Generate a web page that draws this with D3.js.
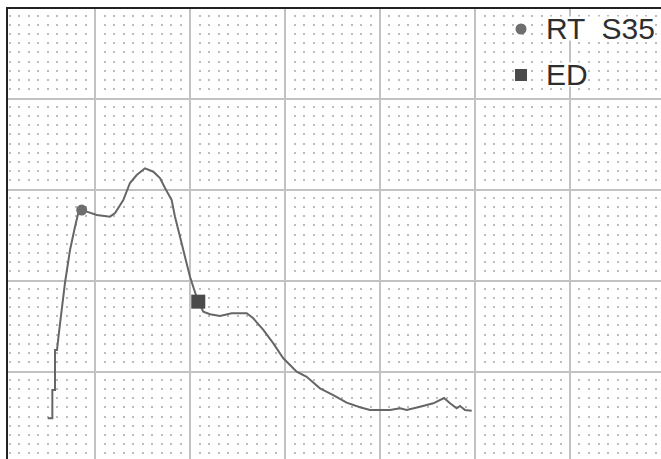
<!DOCTYPE html>
<html>
<head>
<meta charset="utf-8">
<script src="https://cdn.jsdelivr.net/npm/d3@7"></script>
<style>
	body { margin: 0; background: #fff; }
	text { font-family: "Liberation Sans", Arial, sans-serif; }
</style>
</head>
<body>
<svg id="chart" width="661" height="459"></svg>
<script>
// curve samples, x and y in grid units (1 unit = one major cell)
var curveX = [0.502,0.551,0.551,0.579,0.579,0.600,0.624,0.684,0.737,0.789,0.824,0.860,0.913,1.018,1.158,1.211,1.298,1.368,1.439,1.526,1.614,1.684,1.737,1.807,1.842,1.895,1.947,2.000,2.045,2.087,2.140,2.211,2.316,2.439,2.597,2.666,2.772,2.877,2.982,3.123,3.228,3.368,3.508,3.649,3.789,3.895,4.105,4.211,4.281,4.421,4.561,4.674,4.737,4.807,4.842,4.895,4.965];
var curveY = [0.491,0.491,0.802,0.802,1.242,1.242,1.462,1.978,2.341,2.593,2.747,2.780,2.762,2.725,2.707,2.747,2.890,3.077,3.165,3.238,3.201,3.132,3.022,2.890,2.707,2.487,2.267,2.047,1.901,1.773,1.663,1.634,1.615,1.645,1.645,1.590,1.462,1.315,1.151,1.003,0.948,0.821,0.747,0.663,0.612,0.582,0.582,0.601,0.582,0.619,0.656,0.714,0.656,0.601,0.626,0.582,0.575];

var markerNames = ["RT", "ED"];
var markerX = [0.860, 2.087];
var markerY = [2.780, 1.773];

var legendLabels = ["RT  S35", "ED"];

var xMax = 7, yMax = 5;

var svg = d3.select("#chart");

var x = d3.scaleLinear().domain([0, xMax]).range([0, 95 * xMax]);
var y = d3.scaleLinear().domain([0, yMax]).range([463, 8]);

function drawGrid() {
	var g = svg.append("g");

	// minor dots
	var dots = [];
	for (var i = 0; i <= xMax * 10; i++) {
		for (var j = 0; j <= yMax * 10; j++) {
			if (i % 10 == 0 || j % 10 == 0) continue;
			dots.push([i / 10, j / 10]);
		}
	}
	g.selectAll("rect.dot")
		.data(dots)
		.enter()
		.append("rect")
		.attr("class", "dot")
		.attr("x", function(d) { return Math.round(x(d[0])) - 1; })
		.attr("y", function(d) { return Math.round(y(d[1])) - 2; })
		.attr("width", 2)
		.attr("height", 2)
		.attr("fill", "#bdbdbd");

	g.selectAll("line.vmaj")
		.data(d3.range(1, xMax + 1))
		.enter()
		.append("line")
		.attr("class", "vmaj")
		.attr("x1", function(d) { return x(d); })
		.attr("x2", function(d) { return x(d); })
		.attr("y1", y(yMax))
		.attr("y2", y(0))
		.attr("stroke", "#c2c2c2")
		.attr("stroke-width", 2);

	g.selectAll("line.hmaj")
		.data(d3.range(0, yMax))
		.enter()
		.append("line")
		.attr("class", "hmaj")
		.attr("x1", 7)
		.attr("x2", 661)
		.attr("y1", function(d) { return y(d); })
		.attr("y2", function(d) { return y(d); })
		.attr("stroke", "#c2c2c2")
		.attr("stroke-width", 2);

	// frame, top and left
	g.append("line")
		.attr("x1", 6).attr("x2", 661)
		.attr("y1", y(yMax)).attr("y2", y(yMax))
		.attr("stroke", "#222").attr("stroke-width", 2);
	g.append("line")
		.attr("x1", 7).attr("x2", 7)
		.attr("y1", y(yMax)).attr("y2", 459)
		.attr("stroke", "#222").attr("stroke-width", 2);
	svg.append("rect")
		.attr("x", 0).attr("y", 0)
		.attr("width", 6).attr("height", 459)
		.attr("fill", "#fff");
	svg.append("rect")
		.attr("x", 0).attr("y", 0)
		.attr("width", 661).attr("height", y(yMax) - 1)
		.attr("fill", "#fff");
}

function drawCurve() {
	var pts = d3.range(curveX.length).map(function(i) { return [curveX[i], curveY[i]]; });
	var line = d3.line()
		.x(function(d) { return x(d[0]); })
		.y(function(d) { return y(d[1]); });

	svg.append("path")
		.datum(pts)
		.attr("d", line)
		.attr("fill", "none")
		.attr("stroke", "#666")
		.attr("stroke-width", 2);

	svg.append("circle")
		.attr("cx", x(markerX[0]))
		.attr("cy", y(markerY[0]))
		.attr("r", 5.5)
		.attr("fill", "#6e6e6e");

	svg.append("rect")
		.attr("x", x(markerX[1]) - 7)
		.attr("y", y(markerY[1]) - 7)
		.attr("width", 14)
		.attr("height", 14)
		.attr("fill", "#4a4a4a");
}

function drawLegend() {
	var lg = svg.append("g").attr("transform", "translate(521,29)");

	var items = lg.selectAll("g.item")
		.data(legendLabels)
		.enter()
		.append("g")
		.attr("class", "item")
		.attr("transform", function(d, i) { return "translate(0," + (i * 46) + ")"; });

	items.append("text")
		.attr("x", 25)
		.attr("y", 9.5)
		.attr("font-size", "30px")
		.attr("fill", "#2e2e2e")
		.style("white-space", "pre")
		.text(function(d) { return d; })
		.each(function() {
			var b = this.getBBox();
			d3.select(this.parentNode).insert("rect", "text")
				.attr("x", b.x)
				.attr("y", b.y + 5)
				.attr("width", b.width)
				.attr("height", b.height - 9)
				.attr("fill", "#fff");
		});

	items.filter(function(d, i) { return i == 0; })
		.append("circle")
		.attr("r", 5.5)
		.attr("fill", "#6e6e6e");

	items.filter(function(d, i) { return i == 1; })
		.append("rect")
		.attr("x", -6).attr("y", -6)
		.attr("width", 12).attr("height", 12)
		.attr("fill", "#4a4a4a");
}

drawGrid();
drawCurve();
drawLegend();
</script>
</body>
</html>
